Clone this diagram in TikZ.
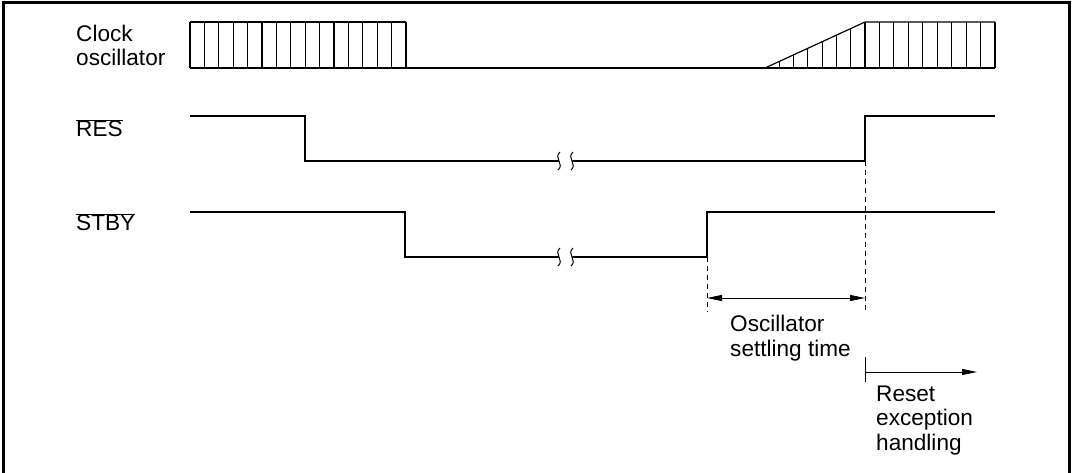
\documentclass[tikz,border=0pt]{standalone}
\usepackage{fontspec}
\setmainfont{Liberation Sans}
\usepackage{tikz}
\usetikzlibrary{arrows.meta,positioning,calc}
\newcommand{\ovl}[1]{$\overline{\mbox{#1}}$}
\tikzset{
  sig/.style={line width=1.2pt},
  guide/.style={line width=1pt, dash pattern=on 5pt off 4pt},
  lbl/.style={anchor=base west, inner sep=0pt, align=left},
  tip/.style={-{Triangle[length=15pt,width=6pt]}},
  twotip/.style={{Triangle[length=15pt,width=6pt]}-{Triangle[length=15pt,width=6pt]}}
}

\begin{document}
\begin{tikzpicture}[x=1pt,y=-1pt,font=\fontsize{22.6}{24.3}\selectfont]
    \useasboundingbox (0,0) rectangle (1074,473);
    \def\hi{22}
    \def\lo{68}

    % frame
    \draw[line width=3pt] (3,473) -- (3,3) -- (1069.5,3) -- (1069.5,473);

    % signal names (base = last line)
    \node[lbl] (clk) at (76,65.5) {Clock\\oscillator};
    \node[lbl] (res) at (76,137) {\ovl{RES}};
    \node[lbl] (stby) at (76,231) {\ovl{STBY}};

    % clock oscillator
    \draw[sig] (190,\lo) -- (995,\lo);
    \draw[sig] (190,\hi) -- (406,\hi);
    \foreach \i in {0,...,15}
      \draw[sig] ({190+\i*14.4},\lo) -- ({190+\i*14.4},\hi);
    \draw[sig] (765,\lo) -- (865,\hi) -- (995,\hi);
    \foreach \i in {1,...,6}
      \draw[sig] ({765+\i*100/7},\lo) -- ({765+\i*100/7},{\lo-\i*46/7});
    \foreach \i in {0,...,9}
      \draw[sig] ({865+\i*130/9},\lo) -- ({865+\i*130/9},\hi);

    % RES
    \draw[sig] (190,116) -- (305,116) -- (305,161) -- (559,161);
    \draw[sig] (572,161) -- (865,161) -- (865,116) -- (995,116);

    % STBY
    \draw[sig] (190,212) -- (405,212) -- (405,257) -- (559,257);
    \draw[sig] (572,257) -- (707,257) -- (707,212) -- (995,212);

    % breaks
    \foreach \y in {161,257}
      \foreach \x in {559,572}
        \draw[line width=1pt] (\x+1,\y-9) .. controls (\x-6,\y-3) and (\x+6,\y+3) .. (\x-1,\y+9);

    % guides
    \coordinate (stbyup) at (707,257);
    \coordinate (resup) at (865,161);
    \draw[guide] (stbyup) -- (707,312);
    \draw[guide] (resup) -- (865,312);

    % settling time
    \coordinate (setA) at (707,298);
    \coordinate (setB) at (865,298);
    \draw[line width=1pt, twotip] (setA) -- (setB);
    \node[lbl] (settle) at (730,356) {Oscillator\\settling time};

    % reset handling
    \coordinate (rstA) at (865,372);
    \coordinate (rstB) at (977,372);
    \draw[line width=1pt] (865,357) -- (865,382);
    \draw[line width=1pt, tip] (rstA) -- (rstB);
    \node[lbl] (reset) at (876,450) {Reset\\exception\\handling};
\end{tikzpicture}
\end{document}
